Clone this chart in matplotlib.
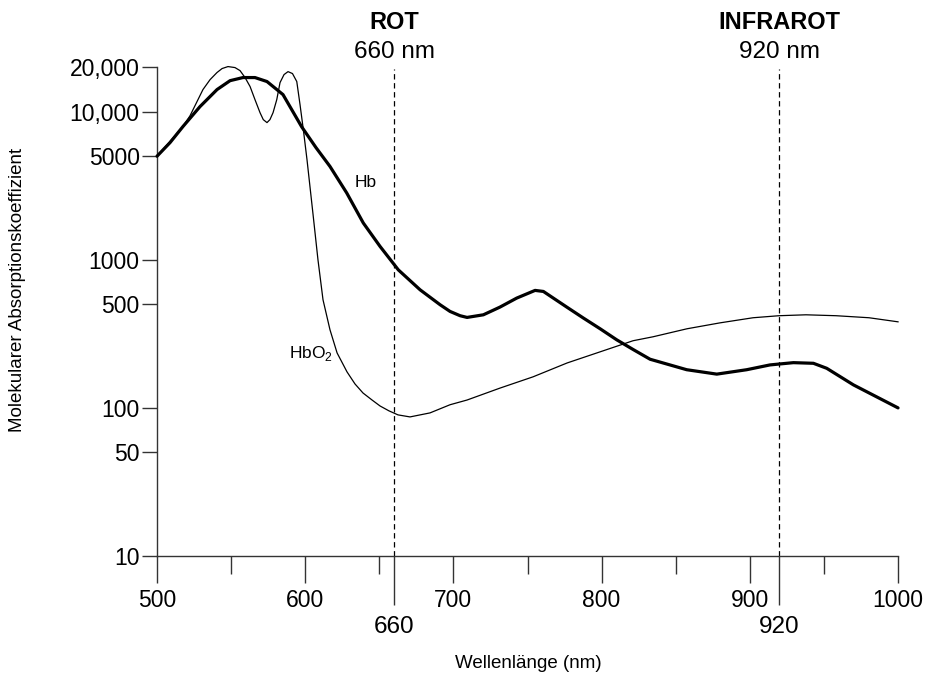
import matplotlib
matplotlib.use("Agg")
import matplotlib.pyplot as plt
import matplotlib.transforms as mtransforms
from matplotlib.ticker import FixedLocator, FixedFormatter, NullLocator

plt.rcParams['font.family'] = ['Liberation Sans', 'DejaVu Sans']

# molar absorption of deoxy haemoglobin (Hb)
hb_nm = [500, 508.8, 517.5, 529, 540.5, 549.3, 558, 566.1, 574.2, 585, 597.6,
         607.3, 616.7, 628, 639.2, 650.5, 662.8, 677.5, 691, 697.7, 704.5,
         709.2, 720.2, 731.4, 742.7, 755.1, 760.7, 767.4, 776.5, 787.7, 799,
         810.2, 821.5, 832.7, 857.4, 877.7, 897.9, 913.6, 929.4, 942.9, 951.9,
         969.9, 1000]
hb_val = [5000, 6180, 7930, 10810, 14090, 16180, 16980, 16980, 15960, 13030,
          7900, 5710, 4266, 2825, 1770, 1230, 855, 627, 497, 448, 419, 408, 425,
          479, 551, 621, 611, 551, 479, 404, 342, 288, 247, 213, 181, 169, 181,
          195, 202, 200, 185, 143, 100]

# molar absorption of oxy haemoglobin (HbO2)
hbo2_nm = [500, 517.5, 522.3, 531, 535.8, 540.5, 543.9, 547.9, 552.6, 556,
           559.4, 562.8, 566.1, 569.5, 571.7, 574.2, 576.2, 578.3, 580.8, 583,
           585.7, 588.4, 591.4, 594.3, 596.5, 598.9, 601.2, 605.3, 608.6, 612,
           616.7, 621.5, 628.2, 633.6, 639, 645.1, 650.5, 656.5, 662.6, 670.7,
           684.2, 697.7, 709.2, 731.4, 753.7, 776.7, 799, 821.2, 834.7, 857.6,
           879.9, 902.2, 919.7, 937.9, 958.2, 980.4, 1000]
hbo2_val = [5000, 7930, 9390, 14090, 16440, 18370, 19530, 20140, 19830, 18920,
            16980, 14760, 12050, 9840, 8830, 8430, 8830, 9840, 12050, 15700,
            17780, 18620, 18070, 15960, 11140, 7330, 4740, 2014, 1000, 537,
            337, 235, 175, 145, 126, 113, 103, 95.5, 89.7, 86.9, 92.5, 105, 113,
            136, 162, 201, 239, 284, 302, 342, 375, 406, 419, 425, 419, 406,
            381]

x_ticks = [500, 600, 700, 800, 900, 1000]
x_minor = [550, 650, 750, 850, 950]
y_ticks = [10, 50, 100, 500, 1000, 5000, 10000, 20000]
y_labels = ['10', '50', '100', '500', '1000', '5000', '10,000', '20,000']

# the two wavelengths used by the oximeter
markers = [(660, 'ROT'), (920, 'INFRAROT')]

axis_col = '0.2'

fig = plt.figure(figsize=(9.28, 6.77), dpi=100)
ax = fig.add_axes([0.1692, 0.1787, 0.7985, 0.7223])

ax.plot(hb_nm, hb_val, color='black', lw=2.3, clip_on=False, zorder=3,
        solid_joinstyle='round', solid_capstyle='round')
ax.plot(hbo2_nm, hbo2_val, color='black', lw=0.9, clip_on=False, zorder=3,
        solid_joinstyle='round')

ax.set_yscale('log')
ax.set_xlim(500, 1000)
ax.set_ylim(10, 20000)

for nm, name in markers:
    ax.vlines(nm, 10, 19300, colors='black', lw=0.9,
              linestyles=(0, (4.3, 2.9)), zorder=2)

ax.text(641, 3100, 'Hb', fontsize=12.5, ha='center', va='baseline')
ax.text(604, 218, r'HbO$_{\mathregular{2}}$', fontsize=12.5, ha='center',
        va='baseline')

# labels above the plot at each wavelength
top = mtransforms.blended_transform_factory(ax.transData, fig.transFigure)
for nm, name in markers:
    ax.text(nm, 0.9675, name, transform=top, fontsize=17, fontweight='bold',
            ha='center', va='center')
    ax.text(nm, 0.923, '%d nm' % nm, transform=top, fontsize=17.5,
            ha='center', va='center')

ax.xaxis.set_major_locator(FixedLocator(x_ticks))
ax.xaxis.set_minor_locator(FixedLocator(x_minor))
ax.yaxis.set_major_locator(FixedLocator(y_ticks))
ax.yaxis.set_major_formatter(FixedFormatter(y_labels))
ax.yaxis.set_minor_locator(NullLocator())

ax.tick_params(axis='x', which='major', length=19.5, width=1, pad=4,
               labelsize=16.5, color=axis_col)
ax.tick_params(axis='x', which='minor', length=13, width=1, color=axis_col)
ax.tick_params(axis='y', which='major', length=11, width=1, pad=1.5,
               labelsize=16.5, color=axis_col)

# long ticks for 660 and 920 below the axis
sec = ax.secondary_xaxis('bottom')
sec.set_xticks([nm for nm, name in markers])
sec.tick_params(length=35, width=1, pad=8, labelsize=17.5, color=axis_col)
sec.spines['bottom'].set_visible(False)

for side in ['top', 'right']:
    ax.spines[side].set_visible(False)
for side in ['left', 'bottom']:
    ax.spines[side].set_color(axis_col)
    ax.spines[side].set_linewidth(1)

fig.text(18 / 928, 1 - 290 / 677, 'Molekularer Absorptionskoeffizient',
         rotation=90, fontsize=13.5, ha='center', va='center')
fig.text(528 / 928, 1 - 664 / 677, 'Wellenlänge (nm)', fontsize=13.5,
         ha='center', va='center')

fig.savefig('out.png', dpi=100)
